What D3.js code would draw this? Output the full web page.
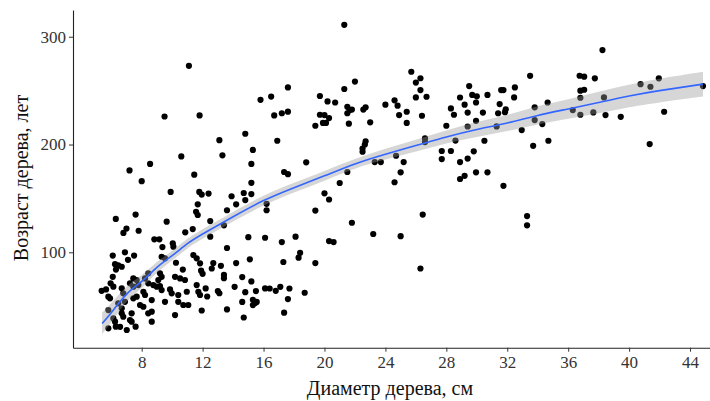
<!DOCTYPE html>
<html>
<head>
<meta charset="utf-8">
<script src="https://cdn.jsdelivr.net/npm/d3@7"></script>
<style>
  html, body { margin: 0; padding: 0; background: #fff; }
  svg { display: block; }
  .tick text { font-family: "Liberation Serif", "Times New Roman", serif !important; font-size: 17px !important; }
</style>
</head>
<body>
<svg id="chart" width="710" height="401"></svg>
<script>
// ---- data ----
const diameter = [
  6.3,7.6,6.8,7.0,7.8,7.2,6.1,6.9,7.5,7.1,
  6.25,6.46,6.69,6.31,6.1,5.96,6.14,7.45,7.67,7.23,
  7.45,7.78,5.37,5.66,6.69,6.79,5.81,5.92,6.9,7.45,
  7.67,6.46,6.69,5.81,6.69,6.79,7.34,6.14,6.25,7.23,
  7.34,5.81,6.58,7.02,7.6,6.3,
  8.0,8.55,9.5,10.6,11.1,11.8,11.45,9.9,11.78,11.94,
  12.39,11.68,11.57,11.68,9.64,11.35,10.86,8.83,9.16,9.36,
  10.04,10.08,9.31,9.53,10.25,11.39,11.61,11.83,9.2,9.31,
  9.09,8.43,8.22,10.19,10.52,10.84,8.43,8.76,8.99,9.2,
  8.11,8.22,9.31,9.86,9.97,10.4,10.96,11.61,11.72,8.66,
  9.53,10.4,10.73,11.06,7.89,8.11,8.43,8.66,10.19,8.66,
  11.94,10.7,
  11.83,12.3,11.9,12.0,12.5,12.5,13.4,13.6,13.6,12.7,
  12.6,13.2,13.4,13.4,14.2,14.1,13.0,13.1,13.6,12.2,
  13.1,13.3,13.9,14.7,15.2,14.8,15.3,15.2,15.2,14.2,
  14.8,15.0,15.1,14.6,15.2,14.8,14.6,15.3,15.45,15.55,
  15.3,14.7,15.5,
  15.8,16.5,17.6,16.7,17.2,17.6,16.9,17.35,17.6,18.8,
  16.2,16.2,16.1,17.2,18.1,17.3,18.4,18.3,16.1,16.4,
  16.8,17.1,17.7,18.7,17.6,17.35,19.4,19.4,19.7,20.2,
  20.7,19.7,20.0,20.3,19.4,19.9,20.1,20.0,20.3,20.3,
  20.6,
  21.3,21.3,22.0,21.5,21.8,21.5,21.65,21.6,22.55,22.7,
  23.0,24.0,24.6,24.8,24.9,25.4,25.4,25.7,26.0,26.3,
  26.3,26.0,26.7,26.4,22.7,22.65,22.5,22.5,21.5,21.0,
  23.3,23.7,24.7,25.2,25.0,24.6,26.6,26.6,21.8,23.2,
  25.0,26.45,26.3,27.7,28.3,27.7,28.0,28.3,28.5,28.9,
  29.2,29.4,29.5,29.4,28.6,28.9,29.4,29.2,28.9,
  29.7,30.0,30.7,31.6,31.75,32.5,32.45,29.95,30.4,31.5,
  31.4,31.9,31.85,29.95,31.3,33.5,33.8,34.65,33.8,34.3,
  32.95,30.5,34.7,33.7,29.8,29.95,30.7,31.75,33.3,33.3,
  36.75,37.05,36.8,37.05,36.8,36.3,36.8,37.75,38.25,38.35,
  37.65,38.45,39.45,40.75,41.4,41.95,41.35,42.3,44.85
];
const age = [
  131,135,118,122,120,176,97,100,97,93,
  89,88,86.6,84,77.3,71.2,68.1,75.8,74.3,71.2,
  68.1,69.6,64.3,65.6,66.6,61.9,58.8,57.3,54.1,57.3,
  58.8,52.7,48,46.4,43.4,40.2,43.4,38.7,35.6,37.2,
  35.6,29.5,30.9,27.9,31,31,
  166,182,226,189,273,227,172,156,156,153.6,
  154.5,144.5,137.6,134.6,128.4,121.6,118.5,112,112,104.9,
  108.3,105.2,95.9,94.4,90.3,97.5,94.4,89.8,80.5,77.3,
  74.3,80.5,75.8,77.3,75.8,74.3,71.2,69.6,68.1,68.7,
  63.4,60.4,65,65.6,61.9,60.4,63.4,69.6,63.4,55.7,
  54.1,54.1,51.1,51.1,51.1,49.5,43.4,44.9,41.8,35.6,
  46,84,
  60.4,59,83,80,114.5,129,125,139,104,90,
  85,87.5,79,76,90,68,64,62,47,66.5,
  204,190,152,155,154,210,195,182,164.5,144.5,
  148.5,114,93.5,77,73,63,54,56,53,54,
  51,39.5,64,
  241.5,244.5,253,227,229,230.5,203.5,174.5,172.5,183.5,
  145,139,113.5,109.5,114.5,91,99.5,95,66.5,66.4,
  64.3,68,66.4,62.5,56.6,44,138.7,90,245,240,
  239,227.6,227.3,224.5,217.4,220,220,154.7,149,110.4,
  109.5,
  311,251.5,258.4,235,232.4,229,232,219.3,232.4,234.5,
  220.6,237,241,236,227.3,230.4,220,267.5,257.5,261.5,
  250.5,243.7,244.3,226.7,203,200,196.3,193.3,174.5,164.3,
  183.7,183.7,189.6,183.7,174.2,165,205.7,202.3,127.4,117,
  115,135,85,194,194,186.5,217.4,233.5,227.6,243.6,
  237,229.6,254.2,216.7,203.7,183.7,187,171,168,
  246,244.7,246,250.5,250.5,253,243.7,239,229.6,237.5,
  229,232.7,230,222,216.8,263.7,234.5,239,222.7,219,
  213.4,203.5,203.5,198.8,193.7,174.2,174.2,161.7,133.6,125,
  263.8,262.9,250,250.8,243.4,232,227.6,261.4,287.6,243.7,
  229.8,227.3,225.7,256,253.6,261.4,200.4,230.4,254.2
];

// smoother
const fitX    = [5.4, 6, 7, 8, 9, 10, 11, 12, 14, 16, 18, 20, 22, 24, 26, 28, 30, 32, 34, 36, 38, 40, 42, 44.85];
const fitY    = [34, 44, 61, 73, 86, 97, 108, 117, 133, 148, 160, 171, 182, 191, 199, 207, 214, 220, 227, 233, 239, 245, 250, 256];
const fitLow  = [24, 35, 54, 67, 81, 92.5, 103.5, 112.5, 128.5, 143.5, 155.5, 166.5, 177.5, 186, 193.5, 201, 207, 212.5, 218.5, 224, 229, 234.5, 239, 244.5];
const fitHigh = [44, 53, 68, 79, 91, 101.5, 112.5, 121.5, 137.5, 152.5, 164.5, 175.5, 186.5, 196, 204.5, 213, 221, 227.5, 235.5, 242, 249, 255.5, 261, 267.5];

const xTicks = [8, 12, 16, 20, 24, 28, 32, 36, 40, 44];
const yTicks = [100, 200, 300];
const xTitle = "Диаметр дерева, см";
const yTitle = "Возраст дерева, лет";

// ---- layout ----
const svg = d3.select("#chart");
const mLeft = 73, mRight = 733, mTop = 10, mBottom = 347.7;

const x = d3.scaleLinear().domain([3.49, 46.82]).range([mLeft, mRight]);
const y = d3.scaleLinear().domain([11.5, 324.8]).range([mBottom, mTop]);

const points = diameter.map((d, i) => ({ d, a: age[i] }));
const fit = fitX.map((d, i) => ({ d, y: fitY[i], lo: fitLow[i], hi: fitHigh[i] }));

// points
svg.append("g")
  .selectAll("circle")
  .data(points)
  .join("circle")
  .attr("cx", p => x(p.d))
  .attr("cy", p => y(p.a))
  .attr("r", 3.1)
  .attr("fill", "#000");

// confidence band
svg.append("path")
  .datum(fit)
  .attr("d", d3.area()
    .x(p => x(p.d))
    .y0(p => y(p.lo))
    .y1(p => y(p.hi))
    .curve(d3.curveNatural))
  .attr("fill", "#999999")
  .attr("fill-opacity", 0.4);

// smooth line
svg.append("path")
  .datum(fit)
  .attr("d", d3.line()
    .x(p => x(p.d))
    .y(p => y(p.y))
    .curve(d3.curveNatural))
  .attr("fill", "none")
  .attr("stroke", "#3366FF")
  .attr("stroke-width", 1.6);

// axes
const fontFam = "Liberation Serif, Times New Roman, serif";

const gx = svg.append("g")
  .attr("transform", `translate(0,${mBottom})`)
  .call(d3.axisBottom(x).tickValues(xTicks).tickFormat(d3.format("d"))
    .tickSize(4).tickSizeOuter(0).tickPadding(4));

const gy = svg.append("g")
  .attr("transform", `translate(${mLeft},0)`)
  .call(d3.axisLeft(y).tickValues(yTicks).tickFormat(d3.format("d"))
    .tickSize(4).tickSizeOuter(0).tickPadding(3));

[gx, gy].forEach(g => {
  g.attr("font-family", fontFam).attr("font-size", 17);
  g.select(".domain").attr("stroke", "#222").attr("stroke-width", 1.1);
  g.selectAll(".tick line").attr("stroke", "#333").attr("stroke-width", 1);
  g.selectAll(".tick text").attr("fill", "#333");
});

// axis titles
svg.append("text")
  .attr("x", 390)
  .attr("y", 395)
  .attr("text-anchor", "middle")
  .attr("font-family", fontFam)
  .attr("font-size", 20)
  .attr("fill", "#111")
  .text(xTitle);

svg.append("text")
  .attr("transform", "translate(28,178) rotate(-90)")
  .attr("text-anchor", "middle")
  .attr("font-family", fontFam)
  .attr("font-size", 20)
  .attr("fill", "#111")
  .text(yTitle);
</script>
</body>
</html>
